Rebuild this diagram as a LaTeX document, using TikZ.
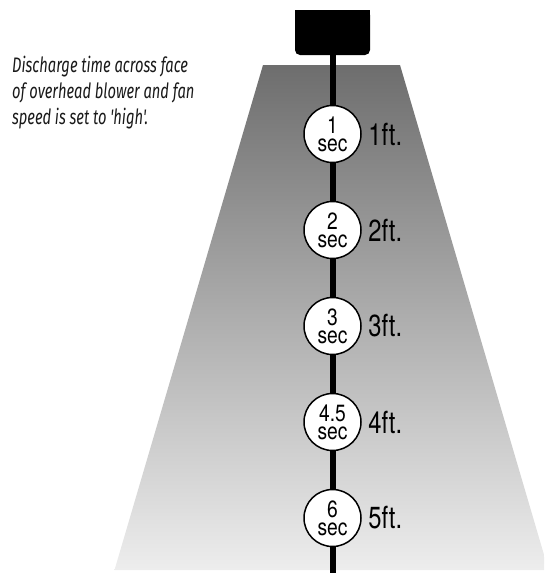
\documentclass[tikz,border=0pt]{standalone}
\usepackage{fontspec}
\newfontfamily\circfont[FakeStretch=0.82]{TeX Gyre Heros}
\newfontfamily\labfont[FakeStretch=0.78]{TeX Gyre Heros}
\newfontfamily\notefont[FakeStretch=0.7]{Fira Sans}
\begin{document}
\begin{tikzpicture}[x=1pt,y=-1pt,
  circ/.style={circle,draw=black,line width=1.5pt,fill=white,minimum size=57pt,inner sep=0pt,
    align=center,font=\circfont\fontsize{23.5}{18}\selectfont},
  ftlabel/.style={anchor=west,inner sep=0pt,font=\labfont\fontsize{30.5}{30.5}\selectfont},
  stem/.style={line width=6pt,black},
  note/.style={anchor=north west,inner sep=0pt,align=left,text=black!90,
    font=\notefont\itshape\fontsize{21}{26}\selectfont}]
\useasboundingbox (0,0) rectangle (544,573);
\begin{scope}
\clip (0,0) rectangle (544,573);
\shade[top color=black!57,bottom color=black!7] (263,65) -- (400,65) -- (548.5,570) -- (114.5,570) -- cycle;
\end{scope}
% blower box
\fill[black,rounded corners=5pt] (295,10) -- (295,55) -- (370,55) -- (370,10) -- cycle;
\fill[black] (295,10) rectangle (370,30);
\coordinate (box) at (332.5,54);
\coordinate (bot) at (332.5,573);
% circles
\node[circ] (c1) at (332.5,134) {1\\sec};
\node[circ] (c2) at (332.5,230) {2\\sec};
\node[circ] (c3) at (332.5,326) {3\\sec};
\node[circ] (c4) at (332.5,422) {4.5\\sec};
\node[circ] (c5) at (332.5,518) {6\\sec};
\draw[stem] (box) -- (c1);
\draw[stem] (c1) -- (c2);
\draw[stem] (c2) -- (c3);
\draw[stem] (c3) -- (c4);
\draw[stem] (c4) -- (c5);
\draw[stem] (c5) -- (bot);
\node[ftlabel] (l1) at ([xshift=6.5pt]c1.east) {1ft.};
\node[ftlabel] (l2) at ([xshift=6.5pt]c2.east) {2ft.};
\node[ftlabel] (l3) at ([xshift=6.5pt]c3.east) {3ft.};
\node[ftlabel] (l4) at ([xshift=6.5pt]c4.east) {4ft.};
\node[ftlabel] (l5) at ([xshift=6.5pt]c5.east) {5ft.};
\node[note] (note) at (12,56) {Discharge time across face\\of overhead blower and fan\\speed is set to 'high'.};
\end{tikzpicture}
\end{document}
